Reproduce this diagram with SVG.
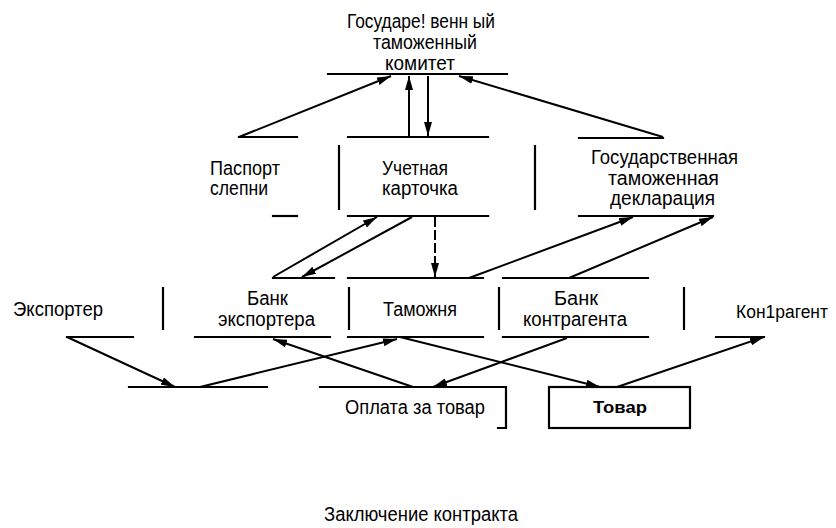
<svg xmlns="http://www.w3.org/2000/svg" width="836" height="528" viewBox="0 0 836 528">
<style>
  .bg { fill: #ffffff; }
  .ln { stroke: #000; stroke-width: 2.2; fill: none; stroke-linecap: square; }
  .sep { stroke: #000; stroke-width: 2.2; fill: none; }
  .cn { stroke: #000; stroke-width: 2; fill: none; }
  .dash { stroke-dasharray: 10 3; }
  .t { font-family: "Liberation Sans", Arial, sans-serif; font-size: 20px; fill: #000; }
  .ts { font-size: 18px; }
  .tb { font-family: "Liberation Sans", Arial, sans-serif; font-size: 17px; font-weight: bold; fill: #000; }
</style>
<defs>
  <marker id="ah" viewBox="0 0 14 8" refX="14" refY="4" markerWidth="14" markerHeight="8" orient="auto" markerUnits="userSpaceOnUse">
    <path d="M0,0 L14,4 L0,8 z" fill="#000"/>
  </marker>
</defs>
<rect class="bg" x="0" y="0" width="836" height="528"/>

<g id="n-committee">
  <text class="t" x="347" y="28" textLength="148" lengthAdjust="spacingAndGlyphs">Государе! венн ый</text>
  <text class="t" x="373" y="49" textLength="104" lengthAdjust="spacingAndGlyphs">таможенный</text>
  <text class="t" x="385" y="70" textLength="70" lengthAdjust="spacingAndGlyphs">комитет</text>
  <line class="ln" x1="328" y1="74" x2="507" y2="74"/>
</g>

<g id="n-passport">
  <line class="ln" x1="239" y1="137" x2="297" y2="137"/>
  <text class="t" x="210" y="175" textLength="70" lengthAdjust="spacingAndGlyphs">Паспорт</text>
  <text class="t" x="210" y="195" textLength="58" lengthAdjust="spacingAndGlyphs">слепни</text>
  <line class="ln" x1="273" y1="216" x2="297" y2="216"/>
</g>

<g id="n-card">
  <line class="ln" x1="348" y1="137" x2="488" y2="137"/>
  <line class="sep" x1="339" y1="145" x2="339" y2="210"/>
  <text class="t" x="382" y="175" textLength="66" lengthAdjust="spacingAndGlyphs">Учетная</text>
  <text class="t" x="382" y="195" textLength="76" lengthAdjust="spacingAndGlyphs">карточка</text>
  <line class="sep" x1="535" y1="145" x2="535" y2="210"/>
  <line class="ln" x1="348" y1="216" x2="488" y2="216"/>
</g>

<g id="n-declaration">
  <line class="ln" x1="579" y1="138" x2="663" y2="138"/>
  <text class="t" x="591" y="164" textLength="147" lengthAdjust="spacingAndGlyphs">Государственная</text>
  <text class="t" x="608" y="185" textLength="111" lengthAdjust="spacingAndGlyphs">таможенная</text>
  <text class="t" x="610" y="205" textLength="105" lengthAdjust="spacingAndGlyphs">декларация</text>
  <line class="ln" x1="579" y1="216" x2="713" y2="216"/>
</g>

<g id="n-exporter">
  <text class="t" x="13" y="316" textLength="90" lengthAdjust="spacingAndGlyphs">Экспортер</text>
  <line class="ln" x1="67" y1="337" x2="133" y2="337"/>
</g>

<g id="n-bank-exporter">
  <line class="sep" x1="163" y1="287" x2="163" y2="330"/>
  <line class="ln" x1="273" y1="278" x2="334" y2="278"/>
  <text class="t" x="247" y="305" textLength="41" lengthAdjust="spacingAndGlyphs">Банк</text>
  <text class="t" x="218" y="326" textLength="97" lengthAdjust="spacingAndGlyphs">экспортера</text>
  <line class="ln" x1="195" y1="337" x2="330" y2="337"/>
</g>

<g id="n-customs">
  <line class="sep" x1="349" y1="287" x2="349" y2="330"/>
  <line class="ln" x1="348" y1="278" x2="483" y2="278"/>
  <text class="t" x="383" y="316" textLength="74" lengthAdjust="spacingAndGlyphs">Таможня</text>
  <line class="ln" x1="348" y1="337" x2="483" y2="337"/>
  <line class="sep" x1="499" y1="287" x2="499" y2="330"/>
</g>

<g id="n-bank-contragent">
  <line class="ln" x1="503" y1="278" x2="648" y2="278"/>
  <text class="t" x="554" y="305" textLength="44" lengthAdjust="spacingAndGlyphs">Банк</text>
  <text class="t" x="523" y="326" textLength="104" lengthAdjust="spacingAndGlyphs">контрагента</text>
  <line class="ln" x1="503" y1="337" x2="648" y2="337"/>
  <line class="sep" x1="684" y1="287" x2="684" y2="330"/>
</g>

<g id="n-contragent">
  <text class="t ts" x="736" y="318" textLength="92" lengthAdjust="spacingAndGlyphs">Кон1рагент</text>
  <line class="ln" x1="716" y1="337" x2="764" y2="337"/>
</g>

<g id="n-contract">
  <line class="ln" x1="129" y1="387" x2="267" y2="387"/>
  <text class="t" x="324" y="521" textLength="194" lengthAdjust="spacingAndGlyphs">Заключение контракта</text>
</g>

<g id="n-payment">
  <path class="ln" d="M320,387 L506,387 L506,428 L498,428"/>
  <text class="t" x="345" y="414" textLength="140" lengthAdjust="spacingAndGlyphs">Оплата за товар</text>
</g>

<g id="n-goods">
  <rect class="ln" x="549" y="387" width="141" height="41"/>
  <text class="tb" x="593" y="413" textLength="54" lengthAdjust="spacingAndGlyphs">Товар</text>
</g>

<g id="connectors">
  <line class="cn" x1="239" y1="137" x2="391" y2="76" marker-end="url(#ah)"/>
  <line class="cn" x1="409" y1="137" x2="409" y2="76" marker-end="url(#ah)"/>
  <line class="cn" x1="428" y1="76" x2="428" y2="136" marker-end="url(#ah)"/>
  <line class="cn" x1="663" y1="137" x2="459" y2="76" marker-end="url(#ah)"/>

  <line class="cn" x1="273" y1="277" x2="377" y2="217" marker-end="url(#ah)"/>
  <line class="cn" x1="412" y1="217" x2="302" y2="277" marker-end="url(#ah)"/>
  <line class="cn dash" x1="435" y1="217" x2="435" y2="277" marker-end="url(#ah)"/>
  <line class="cn" x1="469" y1="278" x2="633" y2="217" marker-end="url(#ah)"/>
  <line class="cn" x1="569" y1="278" x2="713" y2="217" marker-end="url(#ah)"/>

  <line class="cn" x1="67" y1="337" x2="175" y2="387" marker-end="url(#ah)"/>
  <line class="cn" x1="200" y1="387" x2="397" y2="339" marker-end="url(#ah)"/>
  <line class="cn" x1="413" y1="387" x2="273" y2="339" marker-end="url(#ah)"/>
  <line class="cn" x1="567" y1="338" x2="433" y2="387" marker-end="url(#ah)"/>
  <line class="cn" x1="400" y1="337" x2="600" y2="387" marker-end="url(#ah)"/>
  <line class="cn" x1="617" y1="387" x2="764" y2="337" marker-end="url(#ah)"/>
</g>
</svg>
